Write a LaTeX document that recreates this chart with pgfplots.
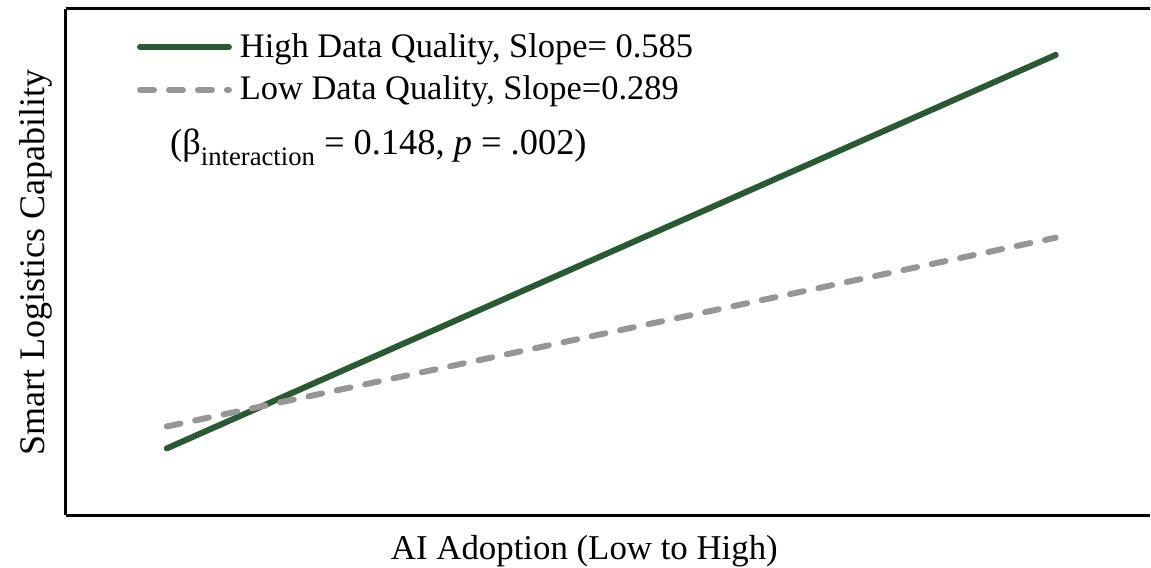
\documentclass[border=0pt]{standalone}
\usepackage{pgfplots}
\pgfplotsset{compat=1.18}
\usepackage{fontspec}
\setmainfont{Liberation Serif}
\definecolor{hgreen}{RGB}{40,90,52}
\definecolor{lgray}{RGB}{150,150,150}
\begin{document}
\begin{tikzpicture}
\begin{axis}[
  scale only axis,
  width=542.5bp, height=253.5bp,
  xmin=-1.227, xmax=1.211,
  ymin=0, ymax=5.07,
  axis x line=box, axis y line=left,
  axis line style={line width=1.5bp, black, -},
  ticks=none,
  clip=false,
  xlabel={AI Adoption (Low to High)},
  ylabel={Smart Logistics Capability},
  xlabel style={font=\fontsize{17.5}{20}\selectfont, inner sep=0pt, anchor=base, at={(axis description cs:0.4785,0)}, yshift=-22bp},
  ylabel style={font=\fontsize{18.1}{20}\selectfont, inner sep=0pt, anchor=base, at={(axis description cs:-0.0194,0.5)}},
  legend style={
    at={(axis description cs:0.0625,0.953)}, anchor=north west,
    draw=none, fill=none, inner sep=0pt, row sep=8bp, column sep=0pt,
    font=\fontsize{17.3}{20}\selectfont,
    nodes={inner sep=0pt, anchor=base west},
  },
  legend cell align=left,
  legend image code/.code={\draw[#1] (1.5bp,5bp) -- (46bp,5bp); \path (50bp,5bp) (0bp,5bp);},
]
\addplot[hgreen, line width=3bp, line cap=round] coordinates {(-1,0.67) (1,4.61)};
\addlegendentry{High Data Quality, Slope= 0.585}
\addplot[lgray, line width=3bp, line cap=round, dash pattern=on 7bp off 7.5bp] coordinates {(-1,0.89) (1,2.78)};
\addlegendentry{Low Data Quality, Slope=0.289}
\node[anchor=base west, inner sep=0pt, font=\fontsize{18.3}{22}\selectfont] at (axis description cs:0.0959,0.712)
  {(β\raisebox{-0.3em}{\fontsize{13.4}{15}\selectfont interaction} = 0.148, \textit{p} = .002)};
\end{axis}
\path ([xshift=-33bp,yshift=4.5bp]current axis.north west) ([yshift=-26bp]current axis.south west);
\end{tikzpicture}
\end{document}
